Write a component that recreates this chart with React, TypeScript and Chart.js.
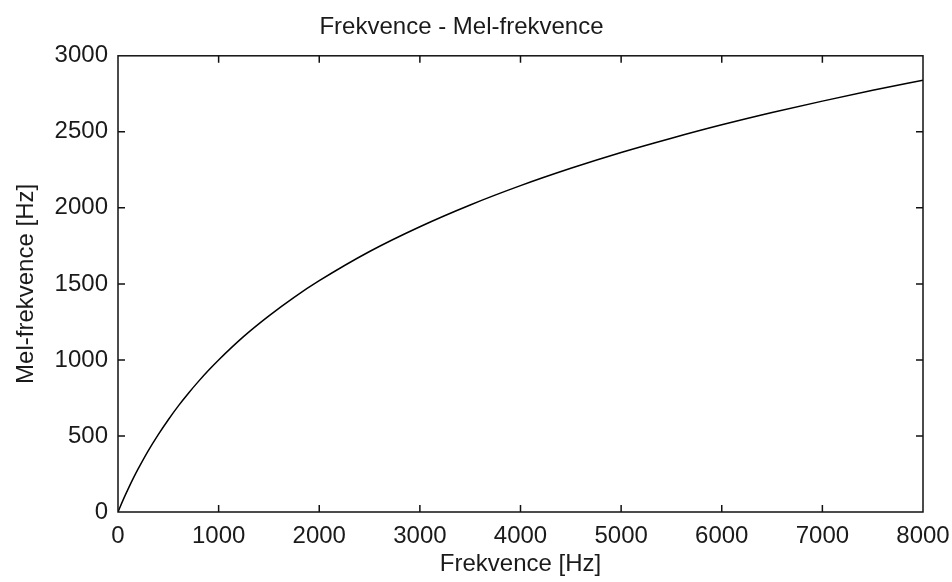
import React, { useEffect, useRef } from "react";
import { Chart, registerables } from "chart.js";

Chart.register(...registerables);

const freqHz = [0, 50, 100, 150, 200, 300, 400, 500, 600, 700, 800, 900, 1000, 1250, 1500, 1750, 2000, 2500, 3000, 3500, 4000, 4500, 5000, 5500, 6000, 6500, 7000, 7500, 8000];
const melHz = [0, 78, 150, 219, 283, 402, 509, 607, 698, 781, 859, 932, 1000, 1155, 1290, 1412, 1521, 1713, 1876, 2019, 2146, 2260, 2364, 2458, 2546, 2627, 2702, 2773, 2840];

const titleText = "Frekvence - Mel-frekvence";
const xTitle = "Frekvence [Hz]";
const yTitle = "Mel-frekvence [Hz]";
const xMin = 0, xMax = 8000, xStep = 1000;
const yMin = 0, yMax = 3000, yStep = 500;

const FONT = "'Liberation Sans', Arial, sans-serif";
const TXT = "#1a1a1a";
const FS = 24;

const boxTicks = {
  id: "boxTicks",
  afterDraw(chart: any) {
    const { ctx, chartArea: a, scales } = chart;
    const tl = 7;
    ctx.save();
    ctx.strokeStyle = "#111";
    ctx.lineWidth = 1.5;
    ctx.strokeRect(a.left, a.top, a.right - a.left, a.bottom - a.top);
    ctx.beginPath();
    const xs = scales.x;
    xs.ticks.forEach((t: any, i: number) => {
      const px = xs.getPixelForTick(i);
      if (Math.abs(px - a.left) < 1 || Math.abs(px - a.right) < 1) return;
      ctx.moveTo(px, a.bottom);
      ctx.lineTo(px, a.bottom - tl);
      ctx.moveTo(px, a.top);
      ctx.lineTo(px, a.top + tl);
    });
    const ys = scales.y;
    ys.ticks.forEach((t: any, i: number) => {
      const py = ys.getPixelForTick(i);
      if (Math.abs(py - a.top) < 1 || Math.abs(py - a.bottom) < 1) return;
      ctx.moveTo(a.left, py);
      ctx.lineTo(a.left + tl, py);
      ctx.moveTo(a.right, py);
      ctx.lineTo(a.right - tl, py);
    });
    ctx.stroke();
    ctx.restore();
  },
};

export default function App() {
  const ref = useRef<HTMLCanvasElement | null>(null);
  useEffect(() => {
    document.body.style.margin = "0";
    const canvas = ref.current!;
    const chart = new Chart(canvas, {
      type: "line",
      data: {
        datasets: [
          {
            data: freqHz.map((f, i) => ({ x: f, y: melHz[i] })),
            borderColor: "#000",
            borderWidth: 1.5,
            pointRadius: 0,
            fill: false,
            cubicInterpolationMode: "monotone",
          },
        ],
      },
      options: {
        animation: false,
        responsive: false,
        maintainAspectRatio: false,
        layout: { padding: { left: 0, right: 29, top: 0, bottom: 0 } },
        plugins: {
          legend: { display: false },
          tooltip: { enabled: false },
          title: {
            display: true,
            text: titleText,
            color: TXT,
            font: { family: FONT, size: FS, weight: "normal" },
            padding: { top: 13, bottom: 14 },
          },
        },
        scales: {
          x: {
            type: "linear",
            min: xMin,
            max: xMax,
            afterFit: (s: any) => { s.height = 70; s.paddingLeft = 0; s.paddingRight = 0; },
            grid: { display: false, drawTicks: false },
            border: { display: false },
            ticks: {
              stepSize: xStep,
              color: TXT,
              padding: 10,
              maxRotation: 0,
              font: { family: FONT, size: FS },
              callback: (v: any) => String(v),
            },
            title: {
              display: true,
              text: xTitle,
              color: TXT,
              font: { family: FONT, size: FS },
              padding: { top: 0, bottom: 3 },
            },
          },
          y: {
            type: "linear",
            min: yMin,
            max: yMax,
            afterFit: (s: any) => { s.width = 118; s.paddingTop = 0; s.paddingBottom = 0; },
            grid: { display: false, drawTicks: false },
            border: { display: false },
            ticks: {
              stepSize: yStep,
              color: TXT,
              padding: 10,
              font: { family: FONT, size: FS },
              callback: (v: any) => String(v),
            },
            title: {
              display: true,
              text: yTitle,
              color: TXT,
              font: { family: FONT, size: FS },
              padding: { top: 12, bottom: 0 },
            },
          },
        },
      },
      plugins: [boxTicks],
    } as any);
    return () => chart.destroy();
  }, []);
  return <canvas ref={ref} width={952} height={582} style={{ display: "block" }} />;
}
